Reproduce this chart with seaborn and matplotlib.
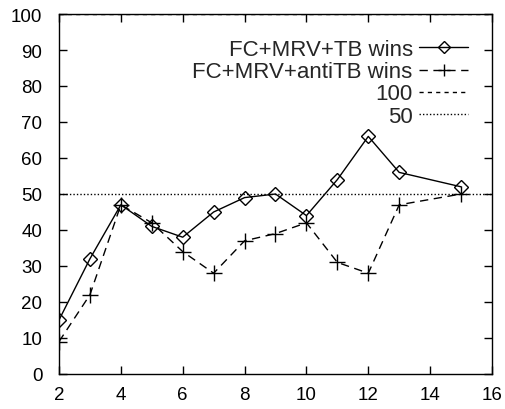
import matplotlib
matplotlib.use("Agg")
import matplotlib.pyplot as plt
import seaborn as sns
import pandas as pd

x_vals = [2, 3, 4, 5, 6, 7, 8, 9, 10, 11, 12, 13, 15]
tb_wins = [15, 32, 47, 41, 38, 45, 49, 50, 44, 54, 66, 56, 52]
antitb_wins = [9, 22, 47, 42, 34, 28, 37, 39, 42, 31, 28, 47, 50]
ref_x = [2, 16]
ref_100 = [100, 100]
ref_50 = [50, 50]
labels = ["FC+MRV+TB wins", "FC+MRV+antiTB wins", "100", "50"]
x_ticks = [2, 4, 6, 8, 10, 12, 14, 16]
y_ticks = [0, 10, 20, 30, 40, 50, 60, 70, 80, 90, 100]

sns.set_style("ticks")
plt.rcParams["font.family"] = ["Liberation Sans", "DejaVu Sans"]

fig = plt.figure(figsize=(5.06, 4.10), dpi=100)
ax = fig.add_axes([59 / 506, 35 / 410, 433 / 506, 360 / 410])

df1 = pd.DataFrame({"x": x_vals, "y": tb_wins})
df2 = pd.DataFrame({"x": x_vals, "y": antitb_wins})
sns.lineplot(data=df1, x="x", y="y", ax=ax, color="black", lw=1.0,
             marker="D", markersize=7.5, markerfacecolor="none",
             markeredgecolor="black", markeredgewidth=1.0, label=labels[0])
sns.lineplot(data=df2, x="x", y="y", ax=ax, color="black", lw=1.0,
             linestyle=(0, (6, 4)), marker="+", markersize=11,
             markeredgecolor="black", markeredgewidth=1.0, label=labels[1])
sns.lineplot(x=ref_x, y=ref_100, ax=ax, color="black", lw=1.0,
             linestyle=(0, (3, 3)), label=labels[2])
sns.lineplot(x=ref_x, y=ref_50, ax=ax, color="black", lw=1.0,
             linestyle=(0, (1, 1.5)), label=labels[3])

ax.set_xlim(2, 16)
ax.set_ylim(0, 100)
ax.set_xticks(x_ticks)
ax.set_yticks(y_ticks)
ax.set_xlabel("")
ax.set_ylabel("")
for s in ax.spines.values():
    s.set_visible(True)
    s.set_linewidth(1.0)
    s.set_color("black")
ax.tick_params(direction="in", length=6, width=1.0, top=True, right=True,
               labelsize=13.5, colors="black")
ax.tick_params(axis="y", pad=12)
ax.tick_params(axis="x", pad=9)

leg = ax.legend(loc="upper right", frameon=False, markerfirst=False,
                fontsize=16, handlelength=2.2, handletextpad=0.3,
                labelspacing=0.05, borderpad=0, borderaxespad=0,
                markerscale=0.75, bbox_to_anchor=(0.945, 0.93))

fig.savefig("out.png", dpi=100)
